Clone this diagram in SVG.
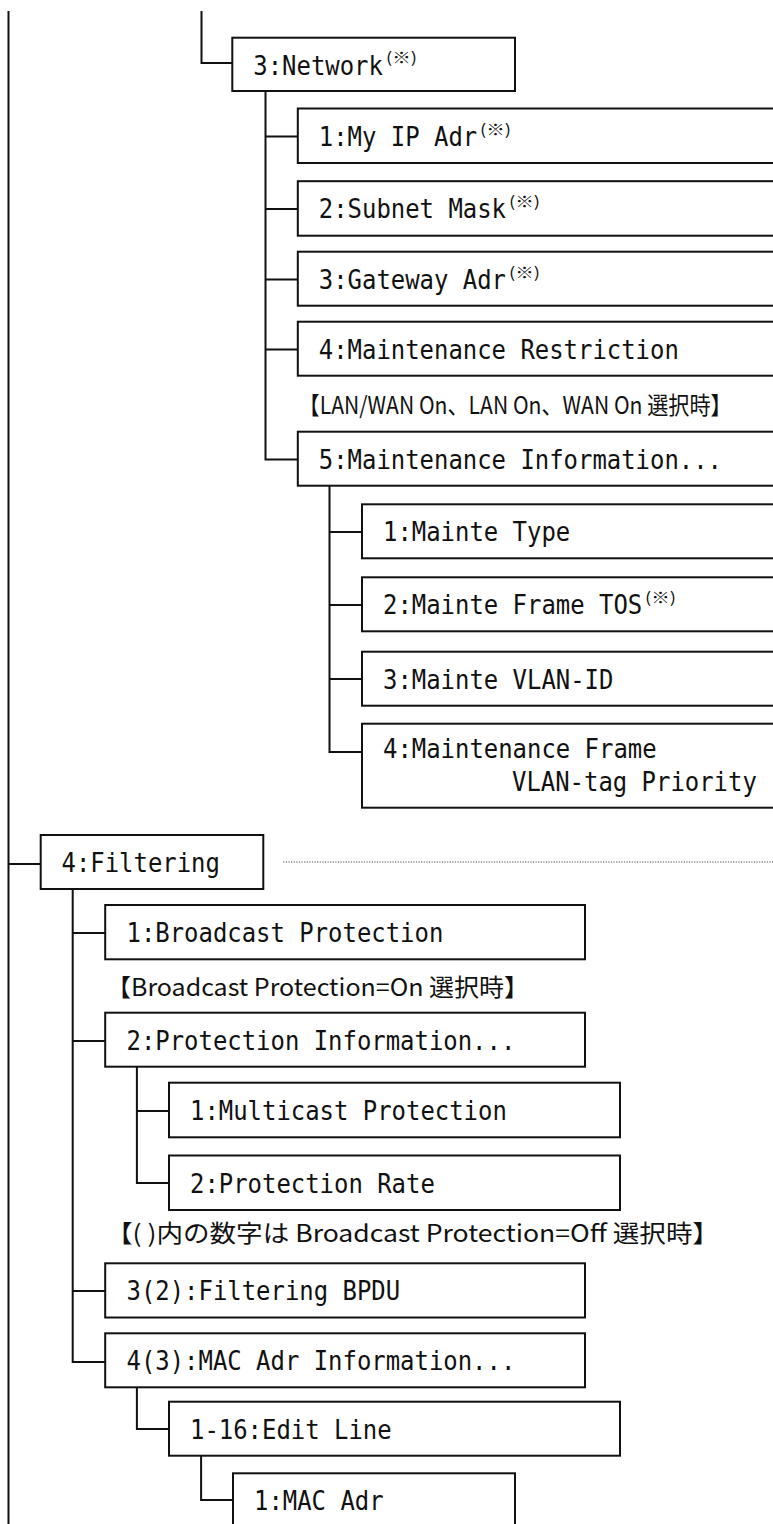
<svg xmlns="http://www.w3.org/2000/svg" width="773" height="1524" viewBox="0 0 773 1524">
<style>
.box{fill:#fff;stroke:#111;stroke-width:2}
.ln{fill:none;stroke:#111;stroke-width:2}
.dot{fill:none;stroke:#444;stroke-width:1;stroke-dasharray:1.2 1.4}
.t{font-family:"DejaVu Sans Mono","Liberation Mono",monospace;font-size:26px;fill:#111}
.sup{font-family:"Noto Sans CJK JP",sans-serif;font-size:15px;fill:#111}
.note{font-family:"Noto Sans CJK JP",sans-serif;font-size:24px;fill:#111}
</style>
<rect width="773" height="1524" fill="#fff"/>
<g id="connectors">
<path class="ln" d="M8.5 11V1524"/>
<path class="ln" d="M201.5 11V63H232.3"/>
<path class="ln" d="M265.5 91V459.5H297.8M265.5 136.5H297.8M265.5 209H297.8M265.5 279.5H297.8M265.5 349.5H297.8"/>
<path class="ln" d="M329.5 485.7V752H362M329.5 532H362M329.5 605H362M329.5 679H362"/>
<path class="ln" d="M8.5 864H40.7"/>
<path class="dot" d="M283.3 862H773"/>
<path class="ln" d="M72.7 889V1362H105.2M72.7 933H105.2M72.7 1041H105.2M72.7 1291H105.2"/>
<path class="ln" d="M136.9 1066.7V1183H169M136.9 1111H169"/>
<path class="ln" d="M136.9 1387.3V1429H169"/>
<path class="ln" d="M201.1 1455.7V1500H233"/>
</g>
<g id="n-network"><rect class="box" x="232.3" y="37.7" width="282.7" height="53.3"/><text class="t" x="253.3" y="74.5" textLength="129.6" lengthAdjust="spacingAndGlyphs">3:Network</text><text class="sup" x="386" y="63" textLength="31" lengthAdjust="spacingAndGlyphs">(※)</text></g>
<g id="n-myip"><rect class="box" x="297.8" y="108.5" width="500" height="54.5"/><text class="t" x="318.8" y="145.5" textLength="158.4" lengthAdjust="spacingAndGlyphs">1:My IP Adr</text><text class="sup" x="480" y="134.5" textLength="31" lengthAdjust="spacingAndGlyphs">(※)</text></g>
<g id="n-subnet"><rect class="box" x="297.8" y="181.2" width="500" height="54.5"/><text class="t" x="318.8" y="218.2" textLength="187.2" lengthAdjust="spacingAndGlyphs">2:Subnet Mask</text><text class="sup" x="509" y="207" textLength="31" lengthAdjust="spacingAndGlyphs">(※)</text></g>
<g id="n-gateway"><rect class="box" x="297.8" y="251.7" width="500" height="54"/><text class="t" x="318.8" y="288.7" textLength="187.2" lengthAdjust="spacingAndGlyphs">3:Gateway Adr</text><text class="sup" x="509" y="277.7" textLength="31" lengthAdjust="spacingAndGlyphs">(※)</text></g>
<g id="n-restriction"><rect class="box" x="297.8" y="321.7" width="500" height="54"/><text class="t" x="318.8" y="358.7" textLength="360" lengthAdjust="spacingAndGlyphs">4:Maintenance Restriction</text></g>
<g id="note-lanwan"><text class="note" x="298.6" y="414" textLength="433" lengthAdjust="spacingAndGlyphs">【LAN/WAN On、LAN On、WAN On 選択時】</text></g>
<g id="n-maintinfo"><rect class="box" x="297.8" y="431.7" width="500" height="54"/><text class="t" x="318.8" y="468.7" textLength="403.2" lengthAdjust="spacingAndGlyphs">5:Maintenance Information...</text></g>
<g id="n-maintetype"><rect class="box" x="362" y="504.3" width="450" height="54"/><text class="t" x="383" y="541.3" textLength="187.2" lengthAdjust="spacingAndGlyphs">1:Mainte Type</text></g>
<g id="n-maintetos"><rect class="box" x="362" y="577.3" width="450" height="54"/><text class="t" x="383" y="614.3" textLength="259.2" lengthAdjust="spacingAndGlyphs">2:Mainte Frame TOS</text><text class="sup" x="645" y="603.3" textLength="31" lengthAdjust="spacingAndGlyphs">(※)</text></g>
<g id="n-maintevlan"><rect class="box" x="362" y="651.7" width="450" height="54"/><text class="t" x="383" y="688.7" textLength="230.4" lengthAdjust="spacingAndGlyphs">3:Mainte VLAN-ID</text></g>
<g id="n-maintepriority"><rect class="box" x="362" y="723.7" width="450" height="84"/><text class="t" x="383" y="758" textLength="273.6" lengthAdjust="spacingAndGlyphs">4:Maintenance Frame</text><text class="t" x="512" y="791" textLength="244.8" lengthAdjust="spacingAndGlyphs">VLAN-tag Priority</text></g>
<g id="n-filtering"><rect class="box" x="40.7" y="835" width="222.6" height="54"/><text class="t" x="61.5" y="872" textLength="158.4" lengthAdjust="spacingAndGlyphs">4:Filtering</text></g>
<g id="n-broadcast"><rect class="box" x="105.2" y="905" width="479.8" height="54.3"/><text class="t" x="126.5" y="942" textLength="316.8" lengthAdjust="spacingAndGlyphs">1:Broadcast Protection</text></g>
<g id="note-bcon"><text class="note" x="106" y="996" textLength="423" lengthAdjust="spacingAndGlyphs">【Broadcast Protection=On 選択時】</text></g>
<g id="n-protinfo"><rect class="box" x="105.2" y="1012.7" width="479.8" height="54"/><text class="t" x="126.5" y="1049.7" textLength="388.8" lengthAdjust="spacingAndGlyphs">2:Protection Information...</text></g>
<g id="n-multicast"><rect class="box" x="169" y="1082.7" width="451" height="54.6"/><text class="t" x="190" y="1119.7" textLength="316.8" lengthAdjust="spacingAndGlyphs">1:Multicast Protection</text></g>
<g id="n-protrate"><rect class="box" x="169" y="1155.5" width="451" height="54.5"/><text class="t" x="190" y="1192.5" textLength="244.8" lengthAdjust="spacingAndGlyphs">2:Protection Rate</text></g>
<g id="note-bcoff"><text class="note" x="106" y="1242" textLength="613" lengthAdjust="spacingAndGlyphs">【( )内の数字は Broadcast Protection=Off 選択時】</text></g>
<g id="n-bpdu"><rect class="box" x="105.2" y="1263.3" width="479.8" height="54.2"/><text class="t" x="126.5" y="1300.3" textLength="273.6" lengthAdjust="spacingAndGlyphs">3(2):Filtering BPDU</text></g>
<g id="n-macinfo"><rect class="box" x="105.2" y="1333.3" width="479.8" height="54"/><text class="t" x="126.5" y="1370.3" textLength="388.8" lengthAdjust="spacingAndGlyphs">4(3):MAC Adr Information...</text></g>
<g id="n-editline"><rect class="box" x="169" y="1401.7" width="451" height="54"/><text class="t" x="190" y="1438.7" textLength="201.6" lengthAdjust="spacingAndGlyphs">1-16:Edit Line</text></g>
<g id="n-macadr"><rect class="box" x="233" y="1473.3" width="282" height="80"/><text class="t" x="254" y="1510.3" textLength="129.6" lengthAdjust="spacingAndGlyphs">1:MAC Adr</text></g>
</svg>
